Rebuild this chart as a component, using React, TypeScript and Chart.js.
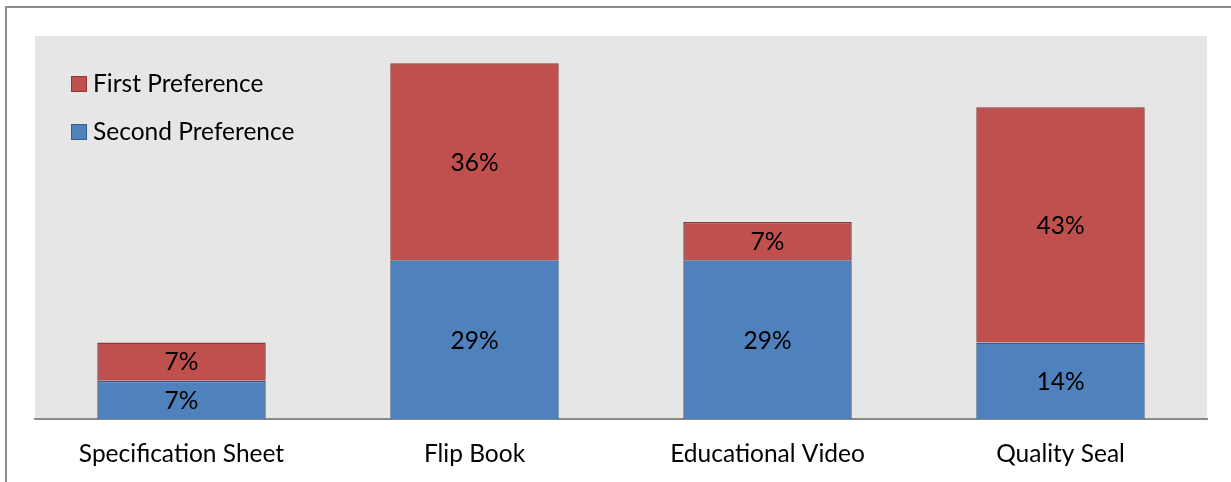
import React, { useEffect, useRef } from "react";
import { Chart, registerables } from "chart.js";

Chart.register(...registerables);

const categories = ["Specification Sheet", "Flip Book", "Educational Video", "Quality Seal"];
const secondPreference = [7, 29, 29, 14];
const firstPreference = [7, 36, 7, 43];
const seriesNames = ["Second Preference", "First Preference"];

const FONT = "Lato, 'Open Sans', sans-serif";
const FONT_SIZE = 24.5;

const decorPlugin = {
  id: "decor",
  beforeDraw(chart: any) {
    const { ctx, chartArea } = chart;
    ctx.save();
    ctx.fillStyle = "#ffffff";
    ctx.fillRect(0, 0, chart.width, chart.height);
    ctx.strokeStyle = "#8a8a8a";
    ctx.lineWidth = 2;
    ctx.strokeRect(6, 7, chart.width + 20, chart.height + 20);
    ctx.fillStyle = "#e6e6e6";
    ctx.fillRect(chartArea.left, chartArea.top, chartArea.right - chartArea.left, chartArea.bottom - chartArea.top);
    ctx.restore();
  },
  afterDatasetsDraw(chart: any) {
    const { ctx } = chart;
    ctx.save();
    ctx.font = `${FONT_SIZE}px ${FONT}`;
    ctx.fillStyle = "#000000";
    ctx.textAlign = "center";
    ctx.textBaseline = "middle";
    chart.data.datasets.forEach((ds: any, di: number) => {
      const meta = chart.getDatasetMeta(di);
      meta.data.forEach((bar: any, i: number) => {
        const v = ds.data[i];
        const yMid = (bar.y + bar.base) / 2;
        ctx.fillText(`${v}%`, bar.x, yMid + 1);
      });
    });
    // legend
    const items = [...chart.data.datasets].reverse();
    items.forEach((ds: any, i: number) => {
      const y = 76 + i * 48;
      ctx.fillStyle = ds.backgroundColor;
      ctx.fillRect(71, y, 16, 16);
      ctx.strokeStyle = ds.borderColor;
      ctx.lineWidth = 1;
      ctx.strokeRect(71.5, y + 0.5, 15, 15);
      ctx.fillStyle = "#000000";
      ctx.textAlign = "left";
      ctx.fillText(ds.label, 93, y + 8);
    });
    ctx.restore();
  },
};

export default function App() {
  const ref = useRef<HTMLCanvasElement>(null);
  useEffect(() => {
    document.body.style.margin = "0";
    const chart = new Chart(ref.current!, {
      type: "bar",
      data: {
        labels: categories,
        datasets: [
          {
            label: seriesNames[0],
            data: secondPreference,
            backgroundColor: "#4f81bd",
            borderColor: "#385d8a",
            borderWidth: 1.5,
            barPercentage: 0.575,
            categoryPercentage: 1,
          },
          {
            label: seriesNames[1],
            data: firstPreference,
            backgroundColor: "#c0504d",
            borderColor: "#8c3836",
            borderWidth: 1.5,
            barPercentage: 0.575,
            categoryPercentage: 1,
          },
        ],
      },
      options: {
        animation: false,
        responsive: false,
        layout: { padding: { left: 35, right: 24, top: 36, bottom: 0 } },
        plugins: { legend: { display: false }, tooltip: { enabled: false } },
        scales: {
          x: {
            stacked: true,
            grid: { display: false, drawTicks: false },
            border: { display: true, color: "#8a8a8a", width: 2 },
            ticks: { color: "#000", font: { family: FONT, size: FONT_SIZE }, padding: 20 },
            afterFit: (s: any) => {
              s.height = 63;
            },
          },
          y: {
            stacked: true,
            display: false,
            min: 0,
            max: 70,
          },
        },
      },
      plugins: [decorPlugin],
    });
    return () => chart.destroy();
  }, []);
  return (
    <div style={{ width: 1231, height: 482 }}>
      <canvas ref={ref} width={1231} height={482} style={{ display: "block" }} />
    </div>
  );
}
